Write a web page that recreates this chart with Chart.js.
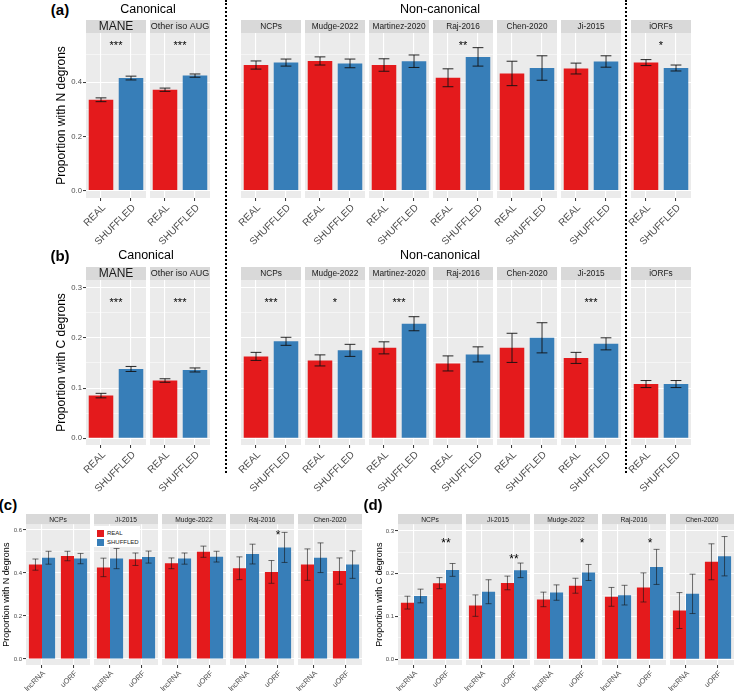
<!DOCTYPE html>
<html>
<head>
<meta charset="utf-8">
<script src="https://cdn.jsdelivr.net/npm/chart.js@4.4.1/dist/chart.umd.min.js"></script>
<style>
  body { margin: 0; background: #fff; }
  #fig { position: relative; width: 736px; height: 691px; overflow: hidden; font-family: 'Liberation Sans', Arial, sans-serif; }
  #fig canvas { position: absolute; }
  .t { position: absolute; transform: translate(-50%, -50%); white-space: nowrap; color: #000; }
  .dots { position: absolute; top: 0; height: 473px; border-left: 2px dotted #000; }
  #leg { position: absolute; left: 94px; top: 526px; width: 46px; height: 21px; background: #fff; font-size: 6px; color: #1A1A1A; }
  #leg div { position: absolute; left: 3px; width: 7px; height: 7px; }
  #leg span { position: absolute; left: 13px; line-height: 7px; }
</style>
</head>
<body>
<div id="fig"></div>
<script>
Chart.defaults.font.family = "'Liberation Sans', Arial, sans-serif";

// ---- data ----
const facetsAB = ['MANE', 'Other iso AUG', 'NCPs', 'Mudge-2022', 'Martinez-2020', 'Raj-2016', 'Chen-2020', 'Ji-2015', 'iORFs'];
const catsAB = ['REAL', 'SHUFFLED'];

// (a) N degrons
const nReal    = [0.335, 0.372, 0.463, 0.478, 0.463, 0.416, 0.432, 0.450, 0.472];
const nRealErr = [0.007, 0.006, 0.015, 0.015, 0.023, 0.033, 0.045, 0.020, 0.011];
const nShuf    = [0.415, 0.424, 0.472, 0.469, 0.477, 0.493, 0.452, 0.476, 0.452];
const nShufErr = [0.007, 0.006, 0.013, 0.016, 0.023, 0.034, 0.045, 0.021, 0.011];
const nSig     = ['***', '***', '', '', '', '**', '', '', '*'];

// (b) C degrons
const cReal    = [0.085, 0.115, 0.163, 0.155, 0.180, 0.149, 0.180, 0.160, 0.108];
const cRealErr = [0.0045, 0.0035, 0.008, 0.011, 0.012, 0.015, 0.029, 0.011, 0.007];
const cShuf    = [0.138, 0.136, 0.193, 0.175, 0.228, 0.167, 0.200, 0.188, 0.108];
const cShufErr = [0.005, 0.004, 0.008, 0.012, 0.014, 0.015, 0.030, 0.012, 0.007];
const cSig     = ['***', '***', '***', '*', '***', '', '', '***', ''];

const facetsCD = ['NCPs', 'Ji-2015', 'Mudge-2022', 'Raj-2016', 'Chen-2020'];
const catsCD = ['lncRNA', 'uORF'];

// (c) N degrons by ORF type  [lncRNA, uORF]
const ncReal    = [[0.439, 0.479], [0.426, 0.464], [0.445, 0.499], [0.422, 0.405], [0.439, 0.409]];
const ncRealErr = [[0.026, 0.022], [0.043, 0.029], [0.025, 0.026], [0.053, 0.053], [0.073, 0.061]];
const ncShuf    = [[0.471, 0.467], [0.467, 0.474], [0.467, 0.476], [0.488, 0.519], [0.471, 0.439]];
const ncShufErr = [[0.030, 0.024], [0.047, 0.028], [0.026, 0.025], [0.046, 0.070], [0.069, 0.064]];
const ncSig     = ['', '', '', '*', ''];

// (d) C degrons by ORF type
const cdReal    = [[0.1325, 0.178], [0.1255, 0.1785], [0.140, 0.172], [0.146, 0.168], [0.114, 0.228]];
const cdRealErr = [[0.015, 0.013], [0.025, 0.016], [0.017, 0.0175], [0.022, 0.034], [0.042, 0.042]];
const cdShuf    = [[0.148, 0.209], [0.158, 0.208], [0.156, 0.203], [0.150, 0.216], [0.153, 0.241]];
const cdShufErr = [[0.016, 0.015], [0.028, 0.017], [0.018, 0.0187], [0.023, 0.041], [0.046, 0.046]];
const cdSig     = ['**', '**', '*', '*', ''];
const cdSigY    = [0.279, 0.241, 0.279, 0.279, 0];

// tick values / labels
const ticksA = [0, 0.1, 0.2, 0.3, 0.4, 0.5];
const tickLabA = ['0.0', '', '0.2', '', '0.4', ''];
const ticksB = [0, 0.05, 0.1, 0.15, 0.2, 0.25, 0.3];
const tickLabB = ['0.0', '', '0.1', '', '0.2', '', '0.3'];
const ticksC = [0, 0.1, 0.2, 0.3, 0.4, 0.5, 0.6];
const tickLabC = ['0.0', '', '0.2', '', '0.4', '', '0.6'];

const RED = '#E41A1C', BLUE = '#377EB8';
const fig = document.getElementById('fig');

function facetChart(cfg) {
  const cv = document.createElement('canvas');
  cv.width = cfg.padL + cfg.w;
  cv.height = cfg.stripH + cfg.panelH + cfg.xH;
  cv.style.left = (cfg.left - cfg.padL) + 'px';
  cv.style.top = cfg.top + 'px';
  fig.appendChild(cv);

  const deco = {
    id: 'deco',
    beforeDraw(chart) {
      const { ctx, chartArea: a } = chart;
      ctx.save();
      ctx.fillStyle = '#EBEBEB';
      ctx.fillRect(a.left, a.top, a.right - a.left, a.bottom - a.top);
      ctx.fillStyle = '#D9D9D9';
      ctx.fillRect(a.left, a.top - cfg.stripH, a.right - a.left, cfg.stripH);
      ctx.fillStyle = '#1A1A1A';
      ctx.font = cfg.stripSize + "px 'Liberation Sans', Arial, sans-serif";
      ctx.textAlign = 'center';
      ctx.textBaseline = 'middle';
      ctx.fillText(cfg.strip, (a.left + a.right) / 2, a.top - cfg.stripH / 2 + 0.5);
      ctx.restore();
    },
    afterDatasetsDraw(chart) {
      const { ctx, scales: { x, y } } = chart;
      ctx.save();
      ctx.strokeStyle = cfg.errColor;
      ctx.lineWidth = cfg.errWidth;
      chart.data.datasets.forEach((ds, i) => {
        chart.getDatasetMeta(i).data.forEach((bar, j) => {
          const yl = y.getPixelForValue(ds.data[j] - ds.err[j]);
          const yh = y.getPixelForValue(ds.data[j] + ds.err[j]);
          const hw = bar.width * cfg.capFrac;
          ctx.beginPath();
          ctx.moveTo(bar.x, yl); ctx.lineTo(bar.x, yh);
          ctx.moveTo(bar.x - hw, yl); ctx.lineTo(bar.x + hw, yl);
          ctx.moveTo(bar.x - hw, yh); ctx.lineTo(bar.x + hw, yh);
          ctx.stroke();
        });
      });
      if (cfg.sig) {
        const sx = cfg.sigCat === null
          ? (x.getPixelForTick(0) + x.getPixelForTick(1)) / 2
          : x.getPixelForTick(cfg.sigCat);
        ctx.fillStyle = '#000';
        ctx.font = cfg.sigSize + "px 'Liberation Sans', Arial, sans-serif";
        ctx.textAlign = 'center';
        ctx.textBaseline = 'alphabetic';
        ctx.fillText(cfg.sig, sx, y.getPixelForValue(cfg.sigY) + cfg.sigSize * 0.57);
      }
      ctx.restore();
    }
  };

  new Chart(cv, {
    type: 'bar',
    data: { labels: cfg.labels, datasets: cfg.datasets },
    plugins: [deco],
    options: {
      responsive: false,
      animation: false,
      layout: { padding: { top: cfg.stripH, left: 0, right: 0, bottom: 0 } },
      plugins: { legend: { display: false }, tooltip: { enabled: false } },
      scales: {
        x: {
          offset: true,
          afterFit: s => { s.height = cfg.xH; s.paddingLeft = 0; s.paddingRight = 0; },
          ticks: { color: '#4D4D4D', font: { size: cfg.xSize }, minRotation: 45, maxRotation: 45, autoSkip: false,
                   padding: 1, labelOffset: cfg.labelOffset },
          grid: { color: '#FFFFFF', lineWidth: 1.1, offset: false, drawTicks: true, tickLength: 3, tickColor: '#333333', tickWidth: 1 },
          border: { display: false }
        },
        y: {
          min: cfg.yMin, max: cfg.yMax,
          afterBuildTicks: s => { s.ticks = cfg.ticks.map(v => ({ value: v })); },
          afterFit: s => { s.width = cfg.padL; s.paddingTop = 0; s.paddingBottom = 0; },
          ticks: { display: cfg.showY, callback: (v, i) => cfg.tickLabels[i], color: '#4D4D4D', font: { size: cfg.tickSize }, padding: 1 },
          grid: {
            color: '#FFFFFF',
            lineWidth: c => cfg.tickLabels[c.index] ? 1.1 : 0.5,
            drawTicks: cfg.showY, tickLength: 3,
            tickColor: c => cfg.tickLabels[c.index] ? '#333333' : 'rgba(0,0,0,0)',
            tickWidth: 1
          },
          border: { display: false },
          title: { display: cfg.showY, text: cfg.yTitle, color: '#000', font: { size: cfg.yTitleSize }, padding: 0 }
        }
      }
    }
  });
}

// ---- rows (a) and (b) ----
const leftsAB = [86, 150, 241, 305, 369, 433, 497, 561, 631];
function rowAB(top, real, realErr, shuf, shufErr, sig, sigY, yMin, yMax, ticks, tickLabels, yTitle) {
  facetsAB.forEach((f, i) => {
    facetChart({
      left: leftsAB[i], top: top, w: 60, padL: 32, stripH: 13, panelH: 165.5, xH: 50,
      strip: f, stripSize: f === 'MANE' ? 12 : (f === 'Other iso AUG' ? 9 : 8.3),
      labels: catsAB,
      datasets: [{ data: [real[i], shuf[i]], err: [realErr[i], shufErr[i]], backgroundColor: [RED, BLUE],
                   borderWidth: 0, categoryPercentage: 1, barPercentage: 0.818 }],
      yMin, yMax, ticks, tickLabels, showY: i === 0, yTitle, yTitleSize: 12, tickSize: 7.7, xSize: 10, labelOffset: 3,
      errColor: '#111', errWidth: 0.9, capFrac: 0.22,
      sig: sig[i], sigCat: null, sigY, sigSize: 11
    });
  });
}
rowAB(20, nReal, nRealErr, nShuf, nShufErr, nSig, 0.545, -0.027, 0.581, ticksA, tickLabA, 'Proportion with N degrons');
rowAB(267, cReal, cRealErr, cShuf, cShufErr, cSig, 0.276, -0.0133, 0.315, ticksB, tickLabB, 'Proportion with C degrons');

// ---- rows (c) and (d) ----
function rowCD(lefts, padL, real, realErr, shuf, shufErr, sig, sigY, yMin, yMax, ticks, tickLabels, yTitle) {
  facetsCD.forEach((f, i) => {
    facetChart({
      left: lefts[i], top: 514, w: 64, padL: padL, stripH: 10.3, panelH: 140.7, xH: 28,
      strip: f, stripSize: 6.7,
      labels: catsCD,
      datasets: [
        { label: 'REAL', data: real[i], err: realErr[i], backgroundColor: RED, borderWidth: 0, categoryPercentage: 0.818, barPercentage: 1 },
        { label: 'SHUFFLED', data: shuf[i], err: shufErr[i], backgroundColor: BLUE, borderWidth: 0, categoryPercentage: 0.818, barPercentage: 1 }
      ],
      yMin, yMax, ticks, tickLabels, showY: i === 0, yTitle, yTitleSize: 9, tickSize: 6, xSize: 7.5, labelOffset: 2,
      errColor: 'rgba(20,20,20,0.75)', errWidth: 0.8, capFrac: 0.23,
      sig: sig[i], sigCat: 1, sigY: sigY[i], sigSize: 12
    });
  });
}
rowCD([26, 94, 162, 230, 298], 25, ncReal, ncRealErr, ncShuf, ncShufErr, ncSig, [0.59, 0.59, 0.59, 0.59, 0.59],
      -0.028, 0.6265, ticksC, tickLabC, 'Proportion with N degrons');
rowCD([398, 466, 534, 602, 670], 24, cdReal, cdRealErr, cdShuf, cdShufErr, cdSig, cdSigY,
      -0.0133, 0.3156, ticksB, tickLabB, 'Proportion with C degrons');

// ---- titles, separators, legend ----
const texts = [
  ['(a)', 60, 9, 15, 'bold'], ['Canonical', 148, 9, 12.5, 'normal'], ['Non-canonical', 440, 9, 12.5, 'normal'],
  ['(b)', 60, 255, 15, 'bold'], ['Canonical', 146, 255, 12.5, 'normal'], ['Non-canonical', 440, 255, 12.5, 'normal'],
  ['(c)', 8, 504, 15, 'bold'], ['(d)', 373, 504, 15, 'bold']
];
texts.forEach(([s, x, y, size, w]) => {
  const d = document.createElement('div');
  d.className = 't';
  d.textContent = s;
  d.style.left = x + 'px'; d.style.top = y + 'px';
  d.style.fontSize = size + 'px'; d.style.fontWeight = w;
  fig.appendChild(d);
});
[225, 625].forEach(x => {
  const d = document.createElement('div');
  d.className = 'dots';
  d.style.left = x + 'px';
  fig.appendChild(d);
});
const leg = document.createElement('div');
leg.id = 'leg';
leg.innerHTML = '<div style="top:3.5px;background:' + RED + '"></div><span style="top:3.5px">REAL</span>' +
                '<div style="top:12.5px;background:' + BLUE + '"></div><span style="top:12.5px">SHUFFLED</span>';
fig.appendChild(leg);
</script>
</body>
</html>
